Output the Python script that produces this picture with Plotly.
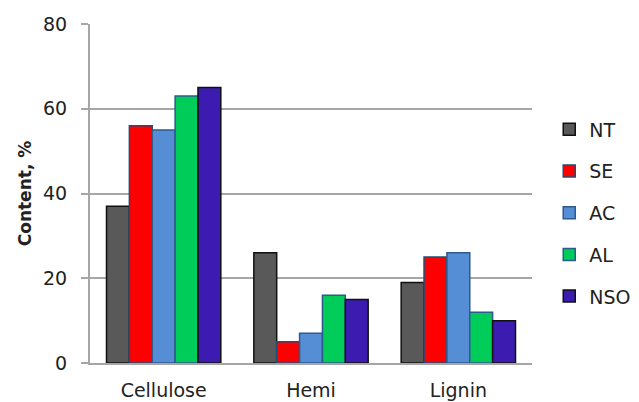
import plotly.graph_objects as go

categories = ["Cellulose", "Hemi", "Lignin"]
series_names = ["NT", "SE", "AC", "AL", "NSO"]
nt = [37, 26, 19]
se = [56, 5, 25]
ac = [55, 7, 26]
al = [63, 16, 12]
nso = [65, 15, 10]
y_ticks = [0, 20, 40, 60, 80]

series_values = [nt, se, ac, al, nso]
fill_colors = ["#595959", "#FF0000", "#558ED5", "#00CC5A", "#3C1CB0"]
edge_colors = ["#111111", "#1F4E79", "#2E5A8C", "#2E5A8C", "#111111"]

fig = go.Figure()
for name, vals, fc, ec in zip(series_names, series_values, fill_colors, edge_colors):
    fig.add_trace(go.Bar(
        x=categories, y=vals, name=name, legendgroup=name,
        marker=dict(color=fc, line=dict(color=ec, width=1.5)),
    ))

grid = "#A6A6A6"
fig.update_layout(
    width=639, height=402,
    margin=dict(l=90, r=107, t=24, b=39, autoexpand=False),
    paper_bgcolor="white", plot_bgcolor="white",
    barmode="group", bargap=0.224, bargroupgap=0,
    font=dict(family="DejaVu Sans, Arial, sans-serif", color="#222222"),
    legend=dict(
        x=1.039, y=0.745, xanchor="left", yanchor="top",
        font=dict(size=19, color="#222222"),
        tracegroupgap=14, itemwidth=30,
    ),
    xaxis=dict(
        showline=True, linecolor=grid, linewidth=2,
        ticks="", tickfont=dict(size=19), showgrid=False,
        ticklabelstandoff=9,
    ),
    yaxis=dict(
        range=[0, 80], tickvals=y_ticks,
        showgrid=True, gridcolor=grid, gridwidth=2,
        showline=True, linecolor=grid, linewidth=2,
        ticks="outside", ticklen=7, tickcolor=grid, tickwidth=2,
        tickfont=dict(size=19), ticklabelstandoff=10,
        zeroline=False,
        title=dict(text="<b>Content, %</b>", font=dict(size=17), standoff=7),
    ),
)

fig.write_html("out.html")
